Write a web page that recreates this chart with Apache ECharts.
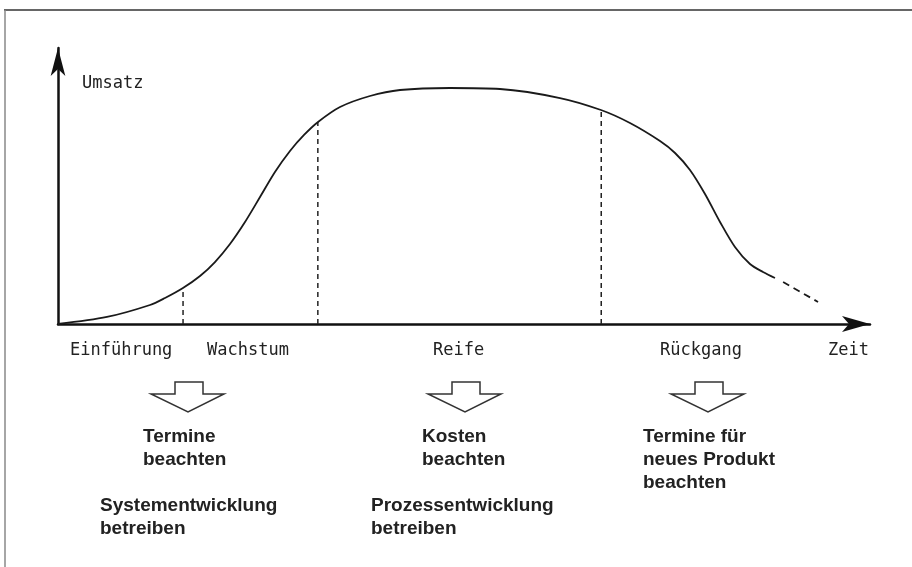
<!DOCTYPE html>
<html>
<head>
<meta charset="utf-8">
<script src="https://cdn.jsdelivr.net/npm/echarts@6/dist/echarts.min.js"></script>
<style>html,body{margin:0;padding:0;background:#fff;}#c{width:912px;height:567px;}</style>
</head>
<body>
<div id="c"></div>
<script>
// Product life cycle curve (time units 0..100, sales units 0..100)
var curveX = [0, 6.03, 11.33, 13.18, 15.39, 17.49, 19.33, 21.18, 23.03, 24.88, 26.72, 28.57, 30.30, 32.02, 34.73, 38.42, 42.12, 48.28, 54.43, 61.82, 66.87, 70.44, 74.14, 75.99, 77.83, 79.68, 81.53, 83.37, 85.22, 86.82, 88.30];
var curveY = [0, 2.54, 6.88, 9.42, 13.04, 17.39, 22.46, 28.99, 36.96, 46.01, 55.07, 62.68, 68.48, 73.19, 78.62, 82.61, 84.78, 85.51, 85.14, 81.88, 77.54, 72.83, 66.30, 61.96, 55.80, 47.10, 36.96, 27.90, 21.74, 18.84, 16.67];
var tailX = [89.3, 93.6];
var tailY = [15.2, 8.0];
var boundaryX = [15.4, 32.0, 66.9];
var boundaryY = [13.0, 73.2, 77.5];
var phaseLabels = ['Einführung', 'Wachstum', 'Reife', 'Rückgang'];
var axisNameY = 'Umsatz';
var axisNameX = 'Zeit';
var notes1 = ['Termine', 'beachten'];
var notes1b = ['Systementwicklung', 'betreiben'];
var notes2 = ['Kosten', 'beachten'];
var notes2b = ['Prozessentwicklung', 'betreiben'];
var notes3 = ['Termine für', 'neues Produkt', 'beachten'];

var chart = echarts.init(document.getElementById('c'), null, {renderer: 'canvas'});

function zip(a, b) { return a.map(function (v, i) { return [v, b[i]]; }); }

var series = [{
  type: 'line', data: zip(curveX, curveY), smooth: 0.3, symbol: 'none',
  lineStyle: {color: '#1a1a1a', width: 1.8}, z: 3, silent: true
}, {
  type: 'line', data: zip(tailX, tailY), symbol: 'none',
  lineStyle: {color: '#1a1a1a', width: 1.8, type: [7, 5]}, z: 3, silent: true
}];
boundaryX.forEach(function (x, i) {
  series.push({
    type: 'line', data: [[x, 0], [x, boundaryY[i]]], symbol: 'none',
    lineStyle: {color: '#222', width: 1.5, type: [5, 4]}, z: 2, silent: true
  });
});

var monoStyle = {fontFamily: 'DejaVu Sans Mono', fontSize: 17, fill: '#222', textVerticalAlign: 'middle'};
var boldStyle = {fontFamily: 'Liberation Sans', fontSize: 19, fontWeight: 'bold', fill: '#222', textVerticalAlign: 'middle'};

function bold(lines, x, y) {
  return lines.map(function (t, i) {
    return {type: 'text', x: x, y: y + i * 23, style: Object.assign({text: t}, boldStyle)};
  });
}
function blockArrow(c) {
  return {type: 'polygon', shape: {points: [[c - 13, 382], [c + 15, 382], [c + 15, 394], [c + 36, 394], [c, 412], [c - 37, 394], [c - 13, 394]]},
    style: {fill: '#fff', stroke: '#333', lineWidth: 1.5}};
}

var graphics = [
  {type: 'line', shape: {x1: 4, y1: 10, x2: 912, y2: 10}, style: {stroke: '#666', lineWidth: 2}},
  {type: 'line', shape: {x1: 5, y1: 10, x2: 5, y2: 567}, style: {stroke: '#888', lineWidth: 1.5}},
  {type: 'text', x: 82, y: 84, style: Object.assign({text: axisNameY}, monoStyle)},
  {type: 'text', x: 70, y: 351, style: Object.assign({text: phaseLabels[0]}, monoStyle)},
  {type: 'text', x: 207, y: 351, style: Object.assign({text: phaseLabels[1]}, monoStyle)},
  {type: 'text', x: 433, y: 351, style: Object.assign({text: phaseLabels[2]}, monoStyle)},
  {type: 'text', x: 660, y: 351, style: Object.assign({text: phaseLabels[3]}, monoStyle)},
  {type: 'text', x: 828, y: 351, style: Object.assign({text: axisNameX}, monoStyle)},
  blockArrow(188), blockArrow(465), blockArrow(708)
].concat(bold(notes1, 143, 437), bold(notes1b, 100, 506), bold(notes2, 422, 437), bold(notes2b, 371, 506), bold(notes3, 643, 437));

chart.setOption({
  animation: false,
  backgroundColor: '#fff',
  grid: {left: 58, right: 42, top: 48, bottom: 243},
  xAxis: {
    type: 'value', min: 0, max: 100,
    axisLine: {show: true, lineStyle: {color: '#111', width: 2.5}, symbol: ['none', 'arrow'], symbolSize: [12, 28]},
    axisTick: {show: false}, axisLabel: {show: false}, splitLine: {show: false}
  },
  yAxis: {
    type: 'value', min: 0, max: 100,
    axisLine: {show: true, lineStyle: {color: '#111', width: 2.5}, symbol: ['none', 'arrow'], symbolSize: [11, 28]},
    axisTick: {show: false}, axisLabel: {show: false}, splitLine: {show: false}
  },
  series: series,
  graphic: graphics
});
</script>
</body>
</html>
